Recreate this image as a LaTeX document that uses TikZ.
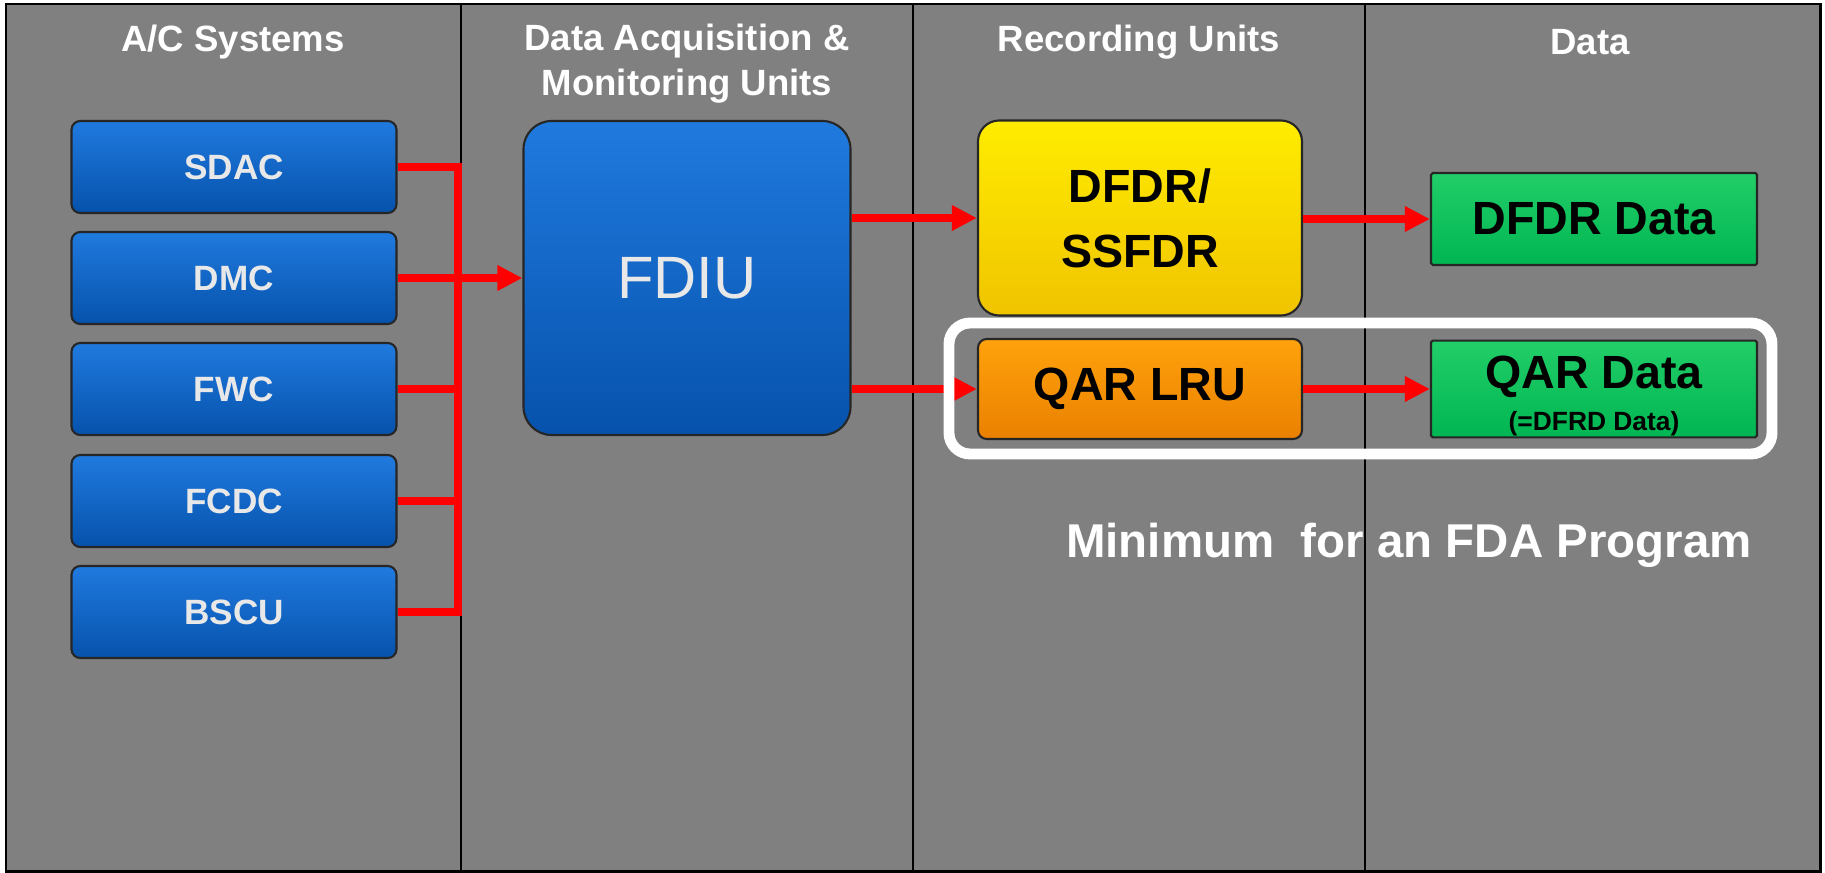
\documentclass[tikz,border=0pt]{standalone}
\usepackage{fontspec}
\setmainfont{Liberation Sans}
\usetikzlibrary{arrows.meta,shadows}

\definecolor{panelgrey}{RGB}{128,128,128}
\definecolor{blueTop}{RGB}{32,122,222}
\definecolor{blueBot}{RGB}{6,82,172}
\definecolor{blueText}{RGB}{232,232,232}
\definecolor{yellowTop}{RGB}{255,236,0}
\definecolor{yellowBot}{RGB}{240,196,0}
\definecolor{orangeTop}{RGB}{255,162,12}
\definecolor{orangeBot}{RGB}{234,128,0}
\definecolor{greenTop}{RGB}{34,206,104}
\definecolor{greenBot}{RGB}{0,182,82}

\begin{document}
\begin{tikzpicture}[x=0.2mm,y=-0.2mm,
  header/.style={text=white,align=center,font=\bfseries\fontsize{20.8}{25.5}\selectfont},
  shade/.style={drop shadow={shadow xshift=2.5pt,shadow yshift=-2.5pt,opacity=0.35}},
  sysbox/.style={rectangle,rounded corners=5pt,draw=black!85,line width=1.2pt,
    top color=blueTop,bottom color=blueBot,shade,minimum width=6.5cm,minimum height=1.84cm,
    text=blueText,font=\bfseries\fontsize{20}{24}\selectfont},
  unitbox/.style={rectangle,draw=black!85,line width=1.2pt,shade,
    text=black,align=center,font=\bfseries\fontsize{26.5}{37}\selectfont},
  databox/.style={unitbox,rounded corners=1pt,top color=greenTop,bottom color=greenBot,
    minimum width=6.52cm,minimum height=1.84cm},
  wire/.style={red,line width=4.5pt},
  flow/.style={wire,-{Triangle[length=0.5cm,width=0.48cm]}}]

% panel and columns
\useasboundingbox (0,0) rectangle (1825,873);
\fill[white] (0,0) rectangle (1825,873);
\draw[fill=panelgrey,line width=1.7pt] (6,4) rectangle (1820,871);
\foreach \x in {461,913,1365}
  \draw[line width=1.2pt] (\x,4) -- (\x,871);

% column titles
\node (hSys) at (233,42) [header] {A/C Systems};
\node (hAcq) at (687,64) [header] {Data Acquisition \&\\Monitoring Units};
\node (hRec) at (1139,42) [header] {Recording Units};
\node (hData) at (1590,42) [header] {Data};

% aircraft systems
\foreach \name/\y in {SDAC/167,DMC/278,FWC/389,FCDC/501,BSCU/612}
  \node (\name) at (234,\y) [sysbox] {\name};

\node (FDIU) at (687,278) [rectangle,rounded corners=16pt,draw=black!85,line width=1.2pt,
  top color=blueTop,bottom color=blueBot,shade,minimum width=6.54cm,minimum height=6.28cm,
  text=blueText,font=\fontsize{34}{40}\selectfont] {FDIU};

\node (DFDR) at (1140,218) [unitbox,rounded corners=12pt,top color=yellowTop,bottom color=yellowBot,
  minimum width=6.48cm,minimum height=3.9cm] {DFDR/\\SSFDR};
\node (QAR) at (1140,389) [unitbox,rounded corners=5pt,top color=orangeTop,bottom color=orangeBot,
  minimum width=6.48cm,minimum height=2cm] {QAR LRU};

\node (DFDRdata) at (1594,219) [databox] {DFDR Data};
\node (QARdata) at (1594,389) [databox,inner ysep=1pt] {\rule{0pt}{26pt}QAR Data\\[-13pt]{\fontsize{15}{17}\selectfont(=DFRD Data)}};

% connections
\coordinate (bus) at (458,612);
\draw [wire] (SDAC.east) -| (bus) -- (BSCU.east);
\foreach \name in {FWC,FCDC}
  \draw [wire] (\name.east) -- (\name.east -| bus);
\draw [flow] (DMC.east) -- (FDIU.west);
\draw [flow] (FDIU.east |- DFDR.west) -- (DFDR.west);
\draw [flow] (FDIU.east |- QAR.west) -- (QAR.west);
\draw [flow] (DFDR.east |- DFDRdata.west) -- (DFDRdata.west);
\draw [flow] (QAR.east) -- (QARdata.west);

% minimum set
\draw [white,line width=6.2pt,rounded corners=12pt] (949,323) rectangle (1772,454);
\node (minimum) at (1060,557) [anchor=base west,text=white,font=\bfseries\fontsize{27}{32}\selectfont]
  {Minimum\ \ for an FDA Program};
\end{tikzpicture}
\end{document}
